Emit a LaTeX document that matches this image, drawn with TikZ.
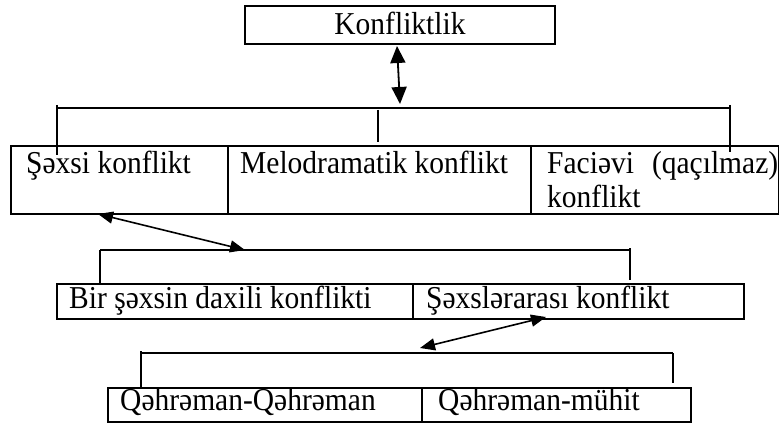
\documentclass[tikz,border=0pt]{standalone}
\usepackage{fontspec}
\setmainfont{Liberation Serif}
\usetikzlibrary{arrows.meta}
\newcommand{\tallbox}[1]{\scalebox{1}[1.08]{#1}}
\begin{document}
\begin{tikzpicture}[x=1pt,y=-1pt,
  cell/.style={draw,line width=2.2pt,inner sep=0pt,anchor=north west},
  lbl/.style={anchor=base west,inner sep=0pt,font=\fontsize{29.5}{33}\selectfont},
  link/.style={line width=1.3pt},
  dbl/.style={line width=1.6pt,{Triangle[length=15pt,width=12pt]}-{Triangle[length=15pt,width=12pt]}},
  dblbig/.style={line width=1.8pt,{Triangle[length=17pt,width=15pt]}-{Triangle[length=17pt,width=15pt]}}]
\useasboundingbox (0,0) rectangle (779,425);
% top
\node[cell,minimum width=310pt,minimum height=38pt] (top) at (244,5) {};
\node[lbl,anchor=base] (toplbl) at (400,35) {\tallbox{Konfliktlik}};
% row 1
\node[cell,minimum width=217pt,minimum height=68pt] (r1a) at (10,145) {};
\node[cell,minimum width=303pt,minimum height=68pt] (r1b) at (227,145) {};
\node[cell,minimum width=248pt,minimum height=68pt] (r1c) at (530,145) {};
\node[lbl] (l1a) at (26,173) {\tallbox{Şəxsi konflikt}};
\node[lbl] (l1b) at (240,173) {\tallbox{Melodramatik konflikt}};
\node[lbl] (l1c) at (547,174) {\tallbox{Faciəvi\hskip 18pt(qaçılmaz)}};
\node[lbl] (l1d) at (547,207) {\tallbox{konflikt}};
% row 2
\node[cell,minimum width=356pt,minimum height=35pt] (r2a) at (56,283) {};
\node[cell,minimum width=331pt,minimum height=35pt] (r2b) at (412,283) {};
\node[lbl] (l2a) at (69,308) {\tallbox{Bir şəxsin daxili konflikti}};
\node[lbl] (l2b) at (426,308) {\tallbox{Şəxslərarası konflikt}};
% row 3
\node[cell,minimum width=314pt,minimum height=34pt] (r3a) at (107,387) {};
\node[cell,minimum width=269pt,minimum height=34pt] (r3b) at (421,387) {};
\node[lbl] (l3a) at (120,410) {\tallbox{Qəhrəman-Qəhrəman}};
\node[lbl] (l3b) at (438,410) {\tallbox{Qəhrəman-mühit}};
% bus 1
\coordinate (b1l) at (57,108);
\coordinate (b1r) at (730,108);
\coordinate (b1m) at (378,110);
\draw[link] (b1l) -- (b1r);
\draw[link] (57,105) -- (57,155);
\draw[link] (b1m) -- (378,142);
\draw[link] (730,105) -- (730,152);
\coordinate (a1s) at (397,46);
\coordinate (a1e) at (400,104);
\draw[dblbig] (a1s) -- (a1e);
% bus 2
\coordinate (b2l) at (100,250);
\coordinate (b2r) at (630,250);
\draw[link] (b2l) -- (b2r);
\draw[link] (b2l) -- (100,283);
\draw[link] (630,248) -- (630,280);
\coordinate (a2s) at (98,214);
\coordinate (a2e) at (245,250);
\draw[dbl] (a2s) -- (a2e);
% bus 3
\coordinate (b3l) at (141,353);
\coordinate (b3r) at (673,353);
\draw[link] (b3l) -- (b3r);
\draw[link] (141,351) -- (141,387);
\draw[link] (b3r) -- (673,383);
\coordinate (a3s) at (546,317);
\coordinate (a3e) at (420,348);
\draw[dbl] (a3s) -- (a3e);
\end{tikzpicture}
\end{document}
